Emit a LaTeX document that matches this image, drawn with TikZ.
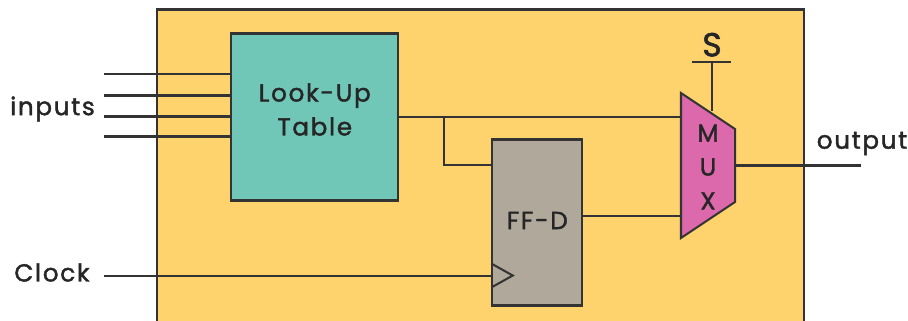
\documentclass[tikz,border=0pt]{standalone}
\usepackage{fontspec}
\setmainfont[LetterSpace=7,FakeBold=1.6]{Poppins}
\usepackage{tikz}
\usetikzlibrary{positioning}
\usetikzlibrary{calc}
\definecolor{framecol}{HTML}{FED36E}
\definecolor{lutcol}{HTML}{70C7B7}
\definecolor{ffcol}{HTML}{AFA89B}
\definecolor{muxcol}{HTML}{DC69AB}
\definecolor{linecol}{HTML}{333333}
\tikzstyle{wire} = [draw=linecol,line width=1.15pt]
\tikzstyle{block} = [draw=linecol,line width=1.15pt,inner sep=0pt,anchor=north west]
\tikzstyle{label} = [text=black!85,font=\fontsize{14}{19.3}\selectfont,inner sep=0pt,align=center]

\begin{document}
\begin{tikzpicture}

	\clip (0,0) rectangle (18.16,6.42);

	% Outer frame
	\node[block, fill=framecol, minimum width=12.93cm, minimum height=7cm] (frame) at (3.125,6.25) {};

	% Blocks
	\node[block, fill=lutcol, minimum width=3.34cm, minimum height=3.34cm, below right = 0.48 cm and 1.48 cm of frame.north west] (lut) {};
	\node[label] at (lut.center) [yshift=0.15cm] (lutname) {Look-Up\\Table};
	\node[block, fill=ffcol, minimum width=1.8cm, minimum height=3.32cm, below right = 2.6 cm and 6.7 cm of frame.north west] (ff) {};
	\node[label] at ($(ff.center) + (0,0.04)$) (ffname) {FF-D};

	% Mux corners
	\coordinate (muxa) at (13.62,4.56);
	\coordinate (muxb) at (14.7,3.84);
	\coordinate (muxc) at (14.7,2.38);
	\coordinate (muxd) at (13.62,1.66);
	\draw[fill=muxcol, draw=linecol, line width=1.15pt] (muxa) -- (muxb) -- (muxc) -- (muxd) -- cycle;
	\node[label] at (14.16,3.08) (muxname) {M\\U\\X};

	% List of inputs
	\foreach \n/\d in {1/0.84, 2/1.26, 3/1.68, 4/2.08} {
		\coordinate[below = \d cm of lut.north west] (lutin\n);
		\coordinate[left = 2.52 cm of lutin\n] (in\n);
		\draw[wire] (in\n) -- (lutin\n);
	}
	\node[label] at (1.05,4.24) (inputs) {inputs};

	% Clock
	\coordinate[above = 0.62 cm of ff.south west] (ffclk);
	\coordinate (clk) at (in4 |- ffclk);
	\draw[wire] (clk) -- (ffclk);
	\node[label] at (1.04,0.97) (clock) {Clock};
	\draw[wire] ($(ffclk) + (0,0.24)$) -- ($(ffclk) + (0.43,0)$) -- ($(ffclk) + (0,-0.24)$);

	% Table to mux and flip-flop
	\coordinate (muxtop) at (muxa |- 0,4.08);
	\coordinate (muxbot) at (muxa |- 0,2.1);
	\coordinate (lutout) at (lut.east |- muxtop);
	\coordinate (fork) at (8.88,4.08);
	\coordinate (ffin) at (ff.west |- 0,3.12);
	\draw[wire] (lutout) -- (muxtop);
	\draw[wire] (fork) |- (ffin);
	\draw[wire] (ff.east |- muxbot) -- (muxbot);

	% Select
	\coordinate (sel) at (14.24,5.18);
	\coordinate (selin) at (14.24,4.2);
	\draw[wire] (sel) -- (selin);
	\coordinate[left = 0.4 cm of sel] (sell);
	\coordinate[right = 0.38 cm of sel] (selr);
	\draw[wire] (sell) -- (selr);
	\node[label, above = 0.1 cm of sel, font=\fontsize{19}{20}\selectfont] (selname) {S};

	% Output
	\coordinate (muxout) at (14.7,3.11);
	\coordinate (out) at (17.22,3.11);
	\draw[wire] (muxout) -- (out);
	\node[label] at (17.24,3.55) (output) {output};

\end{tikzpicture}
\end{document}
